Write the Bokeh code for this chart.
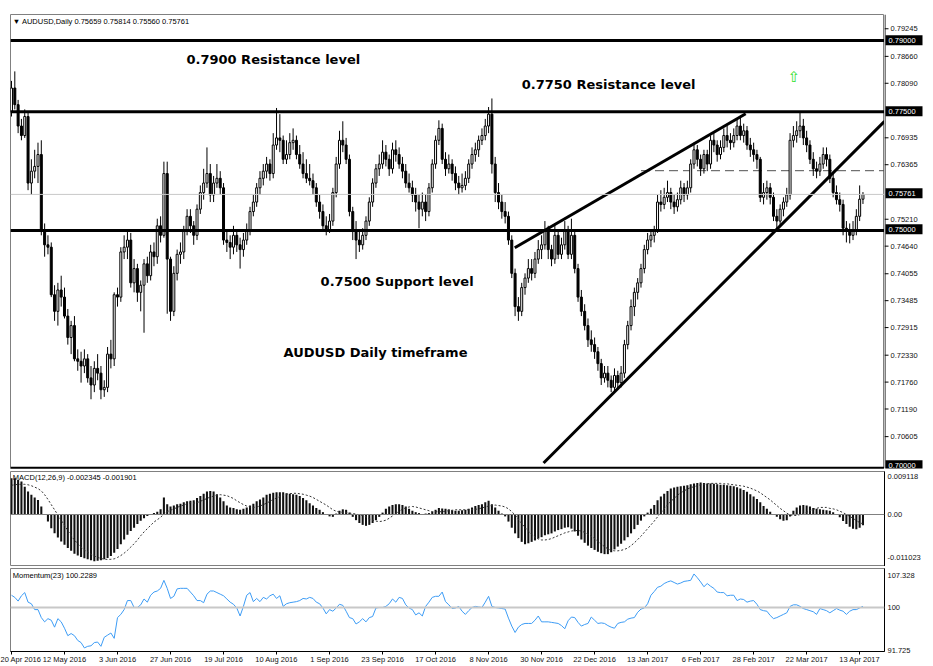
from bokeh.plotting import figure
from bokeh.layouts import column, row
from bokeh.models import Range1d, FixedTicker, PrintfTickFormatter, Label, Span, ColumnDataSource
from bokeh.core.properties import value
from bokeh.embed import file_html
from bokeh.resources import INLINE

# ---------------- data ----------------
HEADER = "\u25BC AUDUSD,Daily  0.75659 0.75814 0.75560 0.75761"
MACD_HEADER = "MACD(12,26,9) -0.002345 -0.001901"
MOM_HEADER = "Momentum(23) 100.2289"

DATE_TICK_BARS = [0, 16, 32, 48, 64, 80, 96, 112, 128, 144, 160, 176, 192, 208, 224, 240, 256]
DATE_TICK_LABELS = ["20 Apr 2016", "12 May 2016", "3 Jun 2016", "27 Jun 2016", "19 Jul 2016",
                    "10 Aug 2016", "1 Sep 2016", "23 Sep 2016", "17 Oct 2016", "8 Nov 2016",
                    "30 Nov 2016", "22 Dec 2016", "13 Jan 2017", "6 Feb 2017", "28 Feb 2017",
                    "22 Mar 2017", "13 Apr 2017"]

PRICE_TICKS = [0.79245, 0.78660, 0.78090, 0.76935, 0.76365, 0.75210, 0.74640,
               0.74055, 0.73485, 0.72915, 0.72330, 0.71760, 0.71190, 0.70605]
PRICE_MIN, PRICE_MAX = 0.69993, 0.79547

LEVELS = [0.7900, 0.7750, 0.7500, 0.7000]
LEVEL_TAGS = ["0.79000", "0.77500", "0.75000", "0.70000"]
LAST_PRICE = 0.75761
LAST_TAG = "0.75761"
DASH_LEVEL = 0.7626
DASH_BARS = [190, 270]

TREND_UP_BARS = [151.9, 221.6]
TREND_UP_PRICES = [0.7464, 0.7746]
TREND_LOW_BARS = [160.6, 263.5]
TREND_LOW_PRICES = [0.7011, 0.7730]

NOTE_TEXTS = ["0.7900 Resistance level", "0.7750 Resistance level",
              "0.7500 Support level", "AUDUSD Daily timeframe"]
NOTE_BARS = [52.8, 154.0, 93.3, 82.1]
NOTE_PRICES = [0.7860, 0.7807, 0.7393, 0.7243]
ARROW_BAR, ARROW_PRICE = 234.3, 0.7824

# OHLC in pips (1e-4)
OPEN = [7750,7800,7765,7720,7700,7740,7600,7625,7635,7660,7500,7470,7465,7365,7330,7375,7360,7320,7275,7300,
        7230,7225,7215,7230,7190,7175,7210,7200,7165,7170,7240,7230,7365,7360,7455,7465,7480,7390,7420,7370,
        7385,7430,7405,7455,7445,7510,7490,7620,7440,7330,7410,7450,7455,7500,7530,7510,7490,7545,7580,7600,
        7620,7575,7600,7610,7590,7480,7475,7465,7490,7470,7460,7480,7500,7540,7560,7590,7610,7625,7640,7620,
        7680,7695,7690,7650,7660,7685,7690,7660,7640,7620,7610,7605,7590,7560,7540,7510,7500,7520,7580,7640,
        7690,7680,7650,7540,7500,7480,7470,7490,7520,7560,7600,7630,7640,7665,7650,7630,7670,7660,7640,7625,
        7600,7590,7575,7560,7545,7560,7540,7590,7640,7690,7715,7650,7630,7640,7620,7600,7590,7595,7610,7640,
        7660,7670,7690,7700,7720,7745,7640,7580,7560,7540,7530,7480,7410,7340,7330,7380,7400,7420,7410,7440,
        7460,7470,7500,7460,7440,7490,7450,7470,7500,7450,7490,7420,7360,7330,7300,7270,7260,7245,7220,7190,
        7200,7185,7170,7195,7180,7200,7260,7300,7340,7370,7390,7420,7460,7480,7490,7500,7560,7555,7570,7580,
        7560,7550,7565,7590,7575,7590,7640,7670,7650,7630,7660,7640,7690,7680,7660,7675,7700,7690,7685,7700,
        7720,7700,7710,7680,7670,7660,7650,7570,7580,7590,7570,7530,7520,7545,7560,7575,7690,7700,7710,7720,
        7695,7680,7650,7630,7625,7640,7660,7650,7610,7580,7565,7555,7505,7500,7490,7500,7530,7566]
HIGH = [7815,7835,7775,7735,7755,7750,7650,7670,7685,7690,7515,7490,7475,7385,7390,7405,7380,7335,7310,7320,
        7250,7245,7250,7240,7215,7225,7240,7215,7185,7255,7270,7370,7380,7465,7490,7500,7495,7440,7430,7395,
        7440,7445,7470,7475,7525,7530,7645,7645,7445,7425,7460,7475,7510,7545,7545,7520,7555,7595,7630,7675,
        7640,7615,7640,7625,7600,7500,7490,7510,7500,7485,7495,7515,7550,7575,7600,7625,7640,7655,7650,7705,
        7758,7745,7700,7690,7705,7715,7700,7680,7665,7650,7640,7620,7600,7575,7555,7530,7535,7590,7655,7710,
        7730,7695,7660,7550,7520,7500,7505,7530,7570,7610,7640,7660,7690,7680,7660,7685,7690,7675,7655,7640,
        7620,7605,7590,7575,7580,7575,7600,7650,7700,7732,7725,7665,7660,7650,7635,7615,7620,7625,7650,7675,
        7685,7700,7715,7735,7760,7778,7655,7600,7575,7560,7540,7490,7420,7360,7390,7410,7440,7440,7455,7480,
        7490,7520,7510,7470,7515,7500,7485,7520,7510,7525,7500,7430,7375,7345,7315,7290,7275,7255,7230,7215,
        7215,7195,7210,7205,7215,7270,7310,7355,7380,7400,7430,7470,7495,7500,7510,7575,7585,7590,7605,7590,
        7575,7580,7605,7600,7605,7650,7685,7680,7660,7670,7670,7700,7705,7690,7690,7715,7720,7705,7715,7735,
        7742,7725,7720,7695,7685,7670,7655,7600,7605,7600,7580,7545,7555,7570,7590,7705,7720,7730,7748,7735,
        7710,7690,7665,7645,7655,7675,7675,7660,7620,7595,7580,7565,7520,7515,7520,7545,7595,7581]
LOW = [7740,7755,7705,7690,7695,7585,7575,7610,7600,7490,7445,7450,7360,7310,7300,7340,7315,7260,7240,7225,
       7205,7180,7200,7180,7145,7160,7185,7145,7150,7160,7210,7215,7340,7350,7440,7440,7380,7370,7350,7330,
       7285,7390,7395,7425,7430,7475,7485,7325,7310,7320,7395,7430,7440,7490,7495,7470,7480,7535,7565,7590,
       7560,7560,7590,7575,7470,7455,7440,7450,7455,7420,7445,7470,7490,7530,7550,7575,7595,7610,7605,7610,
       7670,7665,7640,7640,7650,7670,7650,7630,7610,7600,7595,7575,7550,7525,7500,7490,7495,7510,7570,7630,
       7665,7640,7530,7480,7440,7455,7460,7480,7510,7550,7590,7615,7630,7635,7615,7620,7645,7630,7610,7590,
       7580,7560,7540,7505,7530,7520,7530,7580,7630,7680,7640,7615,7620,7605,7585,7575,7580,7585,7600,7630,
       7645,7655,7680,7690,7705,7620,7560,7545,7525,7515,7470,7400,7320,7310,7320,7365,7390,7395,7400,7430,
       7440,7460,7440,7425,7430,7440,7440,7460,7440,7440,7410,7350,7320,7290,7255,7245,7230,7205,7175,7180,
       7170,7160,7160,7165,7170,7190,7250,7290,7320,7355,7380,7410,7450,7465,7475,7495,7540,7545,7560,7545,
       7535,7540,7555,7560,7565,7580,7630,7635,7615,7620,7625,7630,7665,7645,7650,7665,7675,7670,7675,7690,
       7690,7685,7670,7655,7645,7630,7560,7555,7565,7555,7520,7500,7510,7530,7550,7565,7675,7685,7695,7680,
       7665,7640,7615,7610,7615,7630,7635,7600,7570,7555,7540,7490,7475,7473,7480,7490,7520,7556]
CLOSE = [7800,7765,7720,7700,7740,7600,7625,7635,7660,7500,7470,7465,7365,7330,7375,7360,7320,7275,7300,7230,
         7225,7215,7230,7190,7175,7210,7200,7165,7170,7240,7230,7365,7360,7455,7465,7480,7390,7420,7370,7385,
         7430,7405,7455,7445,7510,7490,7620,7440,7330,7410,7450,7455,7500,7530,7510,7490,7545,7580,7600,7620,
         7575,7600,7610,7590,7480,7475,7465,7490,7470,7460,7480,7500,7540,7560,7590,7610,7625,7640,7620,7680,
         7695,7690,7650,7660,7685,7690,7660,7640,7620,7610,7605,7590,7560,7540,7510,7500,7520,7580,7640,7690,
         7680,7650,7540,7500,7480,7470,7490,7520,7560,7600,7630,7640,7665,7650,7630,7670,7660,7640,7625,7600,
         7590,7575,7560,7545,7560,7540,7590,7640,7690,7715,7650,7630,7640,7620,7600,7590,7595,7610,7640,7660,
         7670,7690,7700,7720,7745,7640,7580,7560,7540,7530,7480,7410,7340,7330,7380,7400,7420,7410,7440,7460,
         7470,7500,7460,7440,7490,7450,7470,7500,7450,7490,7420,7360,7330,7300,7270,7260,7245,7220,7190,7200,
         7185,7170,7195,7180,7200,7260,7300,7340,7370,7390,7420,7460,7480,7490,7500,7560,7555,7570,7580,7560,
         7550,7565,7590,7575,7590,7640,7670,7650,7630,7660,7640,7690,7680,7660,7675,7700,7690,7685,7700,7720,
         7700,7710,7680,7670,7660,7650,7570,7580,7590,7570,7530,7520,7545,7560,7575,7690,7700,7710,7720,7695,
         7680,7650,7630,7625,7640,7660,7650,7610,7580,7565,7555,7505,7500,7490,7500,7530,7566,7576]

# MACD(12,26,9) main and signal, in units of 1e-4
MACD_MAIN = [77,77,73,70,59,49,42,36,31,17,1,-15,-29,-40,-49,-57,-64,-71,-77,-83,
             -87,-90,-93,-95,-97,-99,-98,-97,-95,-92,-88,-81,-73,-63,-53,-43,-35,-28,-20,-13,
             -8,-3,0,3,6,11,36,22,17,19,22,23,26,28,29,30,35,39,44,49,
             50,49,43,36,28,19,15,14,11,10,12,15,19,23,28,32,36,42,44,46,
             47,47,47,45,44,43,42,39,35,30,24,19,14,10,5,0,-4,-5,2,8,
             11,10,4,-5,-12,-18,-22,-24,-22,-18,-12,-5,4,12,17,20,22,22,20,17,
             12,8,5,3,1,2,3,6,10,14,13,12,11,9,8,8,9,10,12,15,
             18,20,22,26,29,22,15,8,2,-4,-15,-28,-40,-50,-58,-63,-61,-58,-55,-51,
             -48,-44,-42,-40,-36,-33,-31,-28,-27,-30,-36,-45,-53,-60,-66,-71,-75,-79,-82,-84,
             -84,-80,-74,-68,-62,-55,-48,-40,-31,-22,-13,-4,4,12,20,30,38,44,50,55,
             57,59,60,61,62,64,66,67,68,67,66,66,65,64,63,63,62,61,60,58,
             55,52,48,43,38,33,26,18,12,6,1,-5,-10,-13,-12,-4,8,15,19,20,
             19,17,14,12,11,10,9,8,5,0,-6,-14,-20,-26,-30,-31,-28,-23]
MACD_SIGNAL = [62,63,64,64,64,63,61,58,55,50,42,32,21,10,-1,-12,-23,-34,-45,-54,
               -62,-69,-75,-80,-84,-88,-91,-93,-95,-95,-95,-94,-91,-87,-82,-76,-69,-62,-54,-45,
               -37,-30,-23,-16,-11,-6,1,6,9,12,15,18,20,23,25,24,25,28,31,34,
               37,39,41,42,41,40,37,34,29,25,21,18,16,15,16,18,21,24,28,32,
               35,38,41,43,44,45,45,44,43,41,39,36,32,28,24,20,15,10,7,5,
               5,4,3,2,1,-1,-2,-5,-9,-12,-14,-15,-14,-12,-8,-3,2,7,11,14,
               16,17,16,14,12,10,8,6,6,6,6,7,8,9,10,10,10,10,10,10,
               11,12,14,16,18,19,20,19,18,16,12,6,-1,-10,-19,-28,-35,-42,-48,-52,
               -54,-54,-53,-51,-48,-45,-42,-39,-37,-35,-34,-34,-35,-38,-42,-46,-51,-57,-63,-68,
               -73,-76,-77,-77,-76,-74,-71,-66,-60,-53,-46,-38,-30,-22,-14,-5,4,12,20,28,
               34,41,46,50,54,57,59,61,63,64,65,66,66,66,66,65,65,64,63,62,
               61,60,58,56,53,50,46,41,36,31,25,19,13,8,3,-1,-2,-2,0,2,
               5,8,11,13,15,15,15,13,12,10,7,4,0,-4,-8,-13,-17,-20]
MACD_TOP, MACD_BOTTOM = 0.009118, -0.011023
MACD_SCALE_TEXTS = ["0.009118", "0.00", "-0.011023"]
MACD_SCALE_AT = [0.00806, 0.0, -0.00922]      # where MT4 prints its scale texts

# Momentum(23)
MOMENTUM = [102.3,101.9,101.2,102.2,102.8,101.0,100.7,99.6,99.6,98.1,97.3,97.9,97.6,96.3,97.9,97.3,96.1,94.7,95.1,94.7,
            93.8,93.4,92.4,92.7,92.8,93.4,93.5,92.7,94.4,94.8,95.2,94.2,98.1,98.7,99.6,101.3,101.3,100.0,100.0,100.5,
            101.6,101.0,102.3,102.9,103.1,103.6,105.1,103.6,101.7,102.1,103.5,103.6,103.6,103.6,102.9,102.2,101.3,101.3,100.9,102.5,
            103.1,103.1,102.8,102.5,102.2,101.6,101.0,100.6,99.9,98.4,100.2,102.3,102.8,101.1,101.7,101.1,101.9,101.6,102.2,102.5,
            101.7,102.2,100.2,100.7,100.9,101.0,101.1,101.3,101.7,101.6,101.9,101.7,101.0,100.7,99.9,98.8,99.6,99.3,99.9,100.6,
            100.4,99.3,98.1,97.9,96.9,97.3,97.9,97.3,98.1,98.3,99.9,100.0,100.0,100.2,100.7,101.6,101.0,101.9,101.7,100.5,
            99.9,99.6,98.6,99.0,98.4,100.2,101.0,101.9,102.1,102.1,102.9,101.1,100.5,99.8,99.9,100.2,99.3,98.7,99.4,100.0,
            100.2,100.1,100.0,101.0,102.1,100.2,100.0,99.9,99.8,99.7,98.0,96.5,95.3,96.3,96.8,97.0,97.0,97.0,97.6,98.4,
            97.3,97.3,97.3,97.2,97.1,97.0,96.6,96.0,97.5,98.2,98.1,97.2,96.5,96.8,97.0,98.2,97.6,97.0,97.1,97.0,
            96.6,96.3,96.1,97.0,97.2,97.3,97.8,98.0,98.1,99.1,99.7,99.9,100.7,102.3,103.0,103.8,104.0,104.5,104.8,105.0,
            104.7,104.4,104.6,104.9,105.0,105.1,106.3,105.6,104.8,103.9,104.5,104.0,103.6,102.9,102.8,102.8,102.2,102.3,102.3,101.3,
            101.6,101.5,101.0,101.2,101.3,100.6,99.6,99.4,99.3,98.5,97.9,98.1,98.4,98.7,99.0,100.2,100.5,100.5,100.2,99.8,
            99.6,99.4,99.2,98.7,99.8,99.6,99.4,99.0,99.4,99.8,99.5,99.3,98.7,99.3,99.6,99.6,99.9,100.23]
MOM_TOP, MOM_BOTTOM = 107.328, 91.725
MOM_LEVEL = 100.0
MOM_SCALE_TEXTS = ["107.328", "100", "91.725"]
MOM_SCALE_AT = [106.06, 100.0, 92.0]

# ---------------- styling ----------------
FONT = "Liberation Sans"
TXT = "7.5px"
W = 933
AXIS_W = 49
n = len(CLOSE)
bars = list(range(n))
x_range = Range1d(-0.3, 263.5)


def style(p):
    p.grid.visible = False
    p.background_fill_color = "white"
    p.border_fill_color = "white"
    return p


def right_axis(p, ticks, texts):
    ax = p.yaxis[0]
    ax.ticker = FixedTicker(ticks=ticks)
    ax.major_label_overrides = {t: s for t, s in zip(ticks, texts)}
    ax.axis_line_color = "black"
    ax.major_tick_out = 0
    ax.major_tick_in = 0
    ax.minor_tick_line_color = None
    ax.major_label_text_font = FONT
    ax.major_label_text_font_size = TXT
    ax.major_label_text_color = "#111111"
    ax.major_label_standoff = 3


def note(p, x, y, text, size, bold=False, color="black", font=FONT):
    p.add_layout(Label(x=x, y=y, text=text, text_font=font, text_font_size=size,
                       text_font_style="bold" if bold else "normal",
                       text_color=color, text_baseline="middle", text_align="left"))


# ---------- price panel ----------
p1 = style(figure(width=W - AXIS_W, height=471, x_range=x_range,
                  y_range=Range1d(PRICE_MIN, PRICE_MAX), toolbar_location=None,
                  output_backend="svg", x_axis_location=None, y_axis_location=None,
                  min_border_left=10, min_border_right=0, min_border_top=14,
                  min_border_bottom=3))
p1.outline_line_color = "#808080"

p1.add_layout(Span(location=LAST_PRICE, dimension="width", line_color="#c8c8c8", line_width=1))
for lv in LEVELS:
    p1.add_layout(Span(location=lv, dimension="width", line_color="black", line_width=3))

p1.line(DASH_BARS, [DASH_LEVEL, DASH_LEVEL], line_color="#505050", line_width=1, line_dash="9 5")

o = [v / 1e4 for v in OPEN]
h = [v / 1e4 for v in HIGH]
l = [v / 1e4 for v in LOW]
c = [v / 1e4 for v in CLOSE]
src = ColumnDataSource(dict(
    x=bars, high=h, low=l,
    top=[max(a, b) for a, b in zip(o, c)],
    bottom=[min(a, b) for a, b in zip(o, c)],
    fill=["white" if cc >= oo else "black" for oo, cc in zip(o, c)]))
p1.segment(x0="x", y0="low", x1="x", y1="high", source=src, line_color="black", line_width=1)
p1.vbar(x="x", width=0.6, top="top", bottom="bottom", source=src,
        fill_color="fill", line_color="black", line_width=1)

p1.line(TREND_UP_BARS, TREND_UP_PRICES, line_color="black", line_width=3)
p1.line(TREND_LOW_BARS, TREND_LOW_PRICES, line_color="black", line_width=3)

for t, xb, yp in zip(NOTE_TEXTS, NOTE_BARS, NOTE_PRICES):
    note(p1, xb, yp, t, "13px", bold=True, font="DejaVu Sans")
note(p1, 0.4, 0.7940, HEADER, TXT)
note(p1, ARROW_BAR, ARROW_PRICE, "\u21E7", "15px", color="#2fe02f", font="DejaVu Sans")

# price scale column (same price-per-pixel as the chart, 3px taller at the bottom)
px_per_price = (468 - 14) / (PRICE_MAX - PRICE_MIN)
s1 = style(figure(width=AXIS_W, height=471, x_range=Range1d(0, AXIS_W),
                  y_range=Range1d(PRICE_MIN - 3 / px_per_price, PRICE_MAX),
                  toolbar_location=None, output_backend="svg",
                  x_axis_location=None, y_axis_location=None,
                  min_border_left=0, min_border_right=0, min_border_top=14,
                  min_border_bottom=0))
s1.outline_line_color = None
s1.add_layout(Span(location=0.5, dimension="height", line_color="black", line_width=1))
s1.segment(x0=0, x1=4, y0=PRICE_TICKS, y1=PRICE_TICKS, line_color="black", line_width=1)
s1.text(x=6, y=PRICE_TICKS, text=["%.5f" % t for t in PRICE_TICKS],
        text_font=value(FONT), text_font_size=TXT, text_color="#111111",
        text_baseline="middle", text_align="left")
tag_y = LEVELS + [LAST_PRICE]
tag_t = LEVEL_TAGS + [LAST_TAG]
s1.rect(x=19.5, y=tag_y, width=37, height=10, height_units="screen",
        fill_color="black", line_color=None)
s1.text(x=4, y=tag_y, text=tag_t, text_font=value(FONT), text_font_size=TXT,
        text_color="white", text_baseline="middle", text_align="left")

# ---------- MACD panel ----------
p2 = style(figure(width=W, height=95, x_range=x_range, y_range=Range1d(MACD_BOTTOM, MACD_TOP),
                  toolbar_location=None, output_backend="svg", x_axis_location=None,
                  y_axis_location="right", min_border_left=10, min_border_right=AXIS_W,
                  min_border_top=0, min_border_bottom=0))
p2.outline_line_color = "#808080"
right_axis(p2, MACD_SCALE_AT, MACD_SCALE_TEXTS)
p2.add_layout(Span(location=0.0, dimension="width", line_color="#808080", line_width=1))
macd = [v / 1e4 for v in MACD_MAIN]
sig = [v / 1e4 for v in MACD_SIGNAL]
p2.vbar(x=bars, width=0.62, top=macd, bottom=0, fill_color="#111111", line_color=None)
p2.line(bars, sig, line_color="#333333", line_width=1, line_dash="2 2")
note(p2, 0.4, 0.00774, MACD_HEADER, TXT)

# ---------- Momentum panel ----------
p3 = style(figure(width=W, height=100, x_range=x_range, y_range=Range1d(MOM_BOTTOM, MOM_TOP),
                  toolbar_location=None, output_backend="svg", x_axis_location="below",
                  y_axis_location="right", min_border_left=10, min_border_right=AXIS_W,
                  min_border_top=2, min_border_bottom=0))
p3.outline_line_color = "#808080"
right_axis(p3, MOM_SCALE_AT, MOM_SCALE_TEXTS)
p3.add_layout(Span(location=MOM_LEVEL, dimension="width", line_color="#c8c8c8", line_width=2))
p3.line(bars, MOMENTUM, line_color="#3d9cf5", line_width=1)
note(p3, 0.4, 106.06, MOM_HEADER, TXT)

xa = p3.xaxis[0]
xa.ticker = FixedTicker(ticks=DATE_TICK_BARS)
xa.major_label_overrides = {b: s for b, s in zip(DATE_TICK_BARS, DATE_TICK_LABELS)}
xa.major_label_text_align = "left"
xa.major_label_text_font = FONT
xa.major_label_text_font_size = TXT
xa.major_label_text_color = "#111111"
xa.major_label_standoff = 0
xa.major_tick_out = 3
xa.major_tick_in = 0
xa.minor_tick_line_color = None
xa.axis_line_color = "black"

layout = column(row(p1, s1, spacing=0), p2, p3, spacing=0)
open("out.html", "w").write(file_html(layout, INLINE, title="AUDUSD Daily"))
